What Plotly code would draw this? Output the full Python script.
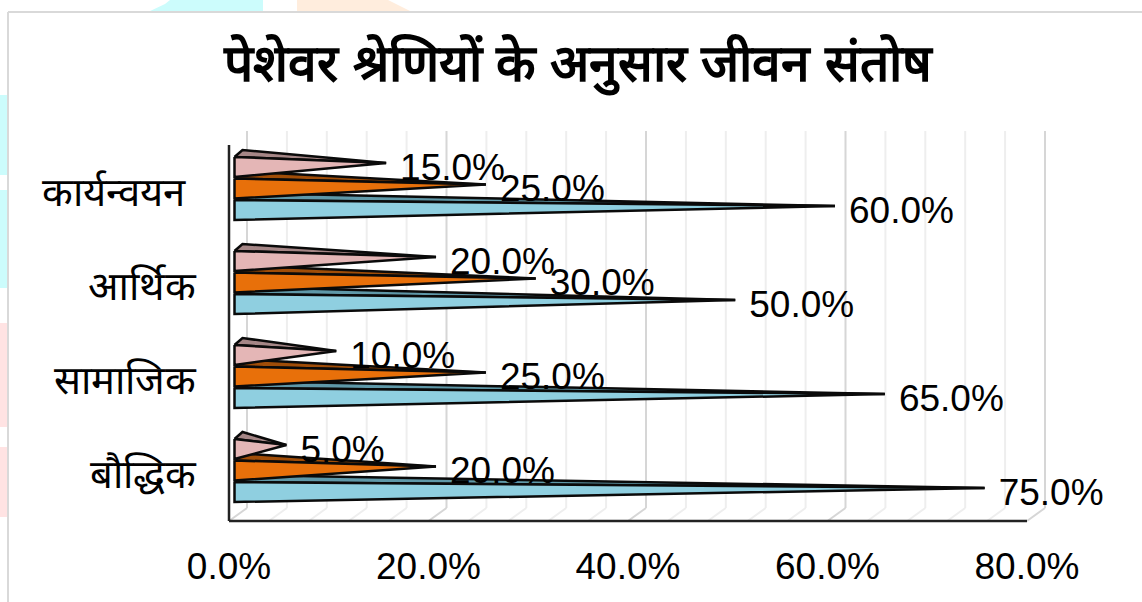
import plotly.graph_objects as go

TITLE = "पेशेवर श्रेणियों के अनुसार जीवन संतोष"
CATEGORIES = ["बौद्धिक", "सामाजिक", "आर्थिक", "कार्यन्वयन\u00a0"]
SERIES_BLUE = [75.0, 65.0, 50.0, 60.0]
SERIES_ORANGE = [20.0, 25.0, 30.0, 25.0]
SERIES_PINK = [5.0, 10.0, 20.0, 15.0]
X_TICKS = [0, 20, 40, 60, 80]
X_TICK_LABELS = ["0.0%", "20.0%", "40.0%", "60.0%", "80.0%"]

W, H = 1142, 602
L, R, T, B = 225, 1048, 129, 525
ZERO_PX, FLOOR_PX, ROW0_PX = 229, 521, 470.5
PX_PER_X = 9.975
PX_PER_Y = 94.0
FONT = "Liberation Sans, Arial, sans-serif"

fx = lambda px: px / PX_PER_X
fy = lambda px: px / PX_PER_Y

x_min = (L - ZERO_PX) / PX_PER_X
x_max = (R - ZERO_PX) / PX_PER_X
y_min = (ROW0_PX - B) / PX_PER_Y
y_max = (ROW0_PX - T) / PX_PER_Y
floor = (ROW0_PX - FLOOR_PX) / PX_PER_Y
wall_top = (ROW0_PX - 131) / PX_PER_Y

fig = go.Figure()

# background wall and floor grid
shapes = []
for v in range(0, 81, 4):
    major = v % 20 == 0
    col = "#d6d6d6" if major else "#eeeeee"
    back = v + fx(18)
    shapes.append(dict(type="line", xref="x", yref="y", x0=back, x1=back,
                       y0=floor + fy(13), y1=wall_top, line=dict(color=col, width=2), layer="below"))
    shapes.append(dict(type="line", xref="x", yref="y", x0=v, x1=back,
                       y0=floor, y1=floor + fy(13), line=dict(color=col, width=2), layer="below"))
# axis lines
AX = "#222222"
shapes.append(dict(type="line", xref="x", yref="y", x0=0, x1=0, y0=floor, y1=wall_top - fy(14),
                   line=dict(color=AX, width=2.5)))
shapes.append(dict(type="line", xref="x", yref="y", x0=0, x1=80, y0=floor, y1=floor,
                   line=dict(color=AX, width=2.5)))

# page furniture in pixels
pxx = lambda p: (p - L) / (R - L)
pxy = lambda p: (B - p) / (B - T)
def page_rect(x0, y0, x1, y1, color):
    return dict(type="rect", xref="paper", yref="paper", x0=pxx(x0), x1=pxx(x1),
                y0=pxy(y0), y1=pxy(y1), fillcolor=color, line=dict(width=0), layer="below")
def page_poly(points, color):
    d = "M" + "L".join(f"{pxx(a)},{pxy(b)}" for a, b in points) + "Z"
    return dict(type="path", xref="paper", yref="paper", path=d, fillcolor=color,
                line=dict(width=0), layer="below")
TEAL, PEACH, ROSE = "#ccfcfc", "#ffeddd", "#ffe3e3"
shapes += [
    page_poly([(148, 12), (165, 4), (170, 0), (263, 0), (263, 12)], TEAL),
    page_poly([(297, 0), (388, 0), (400, 6), (412, 12), (297, 12)], PEACH),
    page_rect(0, 95, 8, 175, TEAL),
    page_rect(0, 190, 8, 288, TEAL),
    page_rect(0, 323, 8, 427, ROSE),
    page_rect(0, 447, 8, 517, ROSE),
    dict(type="line", xref="paper", yref="paper", x0=pxx(8), x1=pxx(W), y0=pxy(12), y1=pxy(12),
         line=dict(color="#d9d9d9", width=2), layer="below"),
    dict(type="line", xref="paper", yref="paper", x0=pxx(8), x1=pxx(8), y0=pxy(12), y1=pxy(H),
         line=dict(color="#d9d9d9", width=2), layer="below"),
]

# pyramids
BAR_X0 = fx(5.5)
TIP_PAD = fx(7.5)
HALF = fy(10)
TIP_UP = fy(4)
BACK_X, BACK_Y = fx(8), fy(7)
EDGE = dict(color="#0a0a0a", width=2.5)
series = [
    (SERIES_BLUE, -fy(21.5), "#8fcfe0", "#5f98a8"),
    (SERIES_ORANGE, 0.0, "#e8700a", "#a04d08"),
    (SERIES_PINK, fy(21.5), "#e4b6b6", "#a58686"),
]
label_x, label_y, label_t = [], [], []
for values, off, face, top in series:
    tx, ty, fxs, fys = [], [], [], []
    for i, v in enumerate(values):
        yc = i + off
        tip = v + TIP_PAD
        tx += [BAR_X0, BAR_X0 + BACK_X, tip, BAR_X0, None]
        ty += [yc + HALF, yc + HALF + BACK_Y, yc + TIP_UP, yc + HALF, None]
        fxs += [BAR_X0, BAR_X0, tip, BAR_X0, None]
        fys += [yc + HALF, yc - HALF, yc + TIP_UP, yc + HALF, None]
        label_x.append(v + fx(21.5))
        label_y.append(yc - fy(3.5))
        label_t.append(f"{v:.1f}%")
    fig.add_trace(go.Scatter(x=tx, y=ty, mode="lines", fill="toself", fillcolor=top,
                             line=EDGE, hoverinfo="skip"))
    fig.add_trace(go.Scatter(x=fxs, y=fys, mode="lines", fill="toself", fillcolor=face,
                             line=EDGE, hoverinfo="skip"))

fig.add_trace(go.Scatter(x=label_x, y=label_y, text=label_t, mode="text",
                         textposition="middle right", cliponaxis=False,
                         textfont=dict(family=FONT, size=37, color="#000000"), hoverinfo="skip"))

fig.update_layout(
    width=W, height=H, autosize=False, showlegend=False,
    paper_bgcolor="rgba(255,255,255,1)", plot_bgcolor="rgba(0,0,0,0)",
    margin=dict(l=L, r=W - R, t=T, b=H - B, pad=0),
    font=dict(family=FONT, color="#000000"),
    title=dict(text=TITLE, x=578 / W, xanchor="center", y=1 - 62.5 / H, yanchor="middle", automargin=False,
               font=dict(size=51.5, color="#000000", family=FONT, weight="bold")),
    shapes=shapes,
    xaxis=dict(range=[x_min, x_max], tickvals=X_TICKS, ticktext=X_TICK_LABELS, showgrid=False,
               zeroline=False, showline=False, ticks="outside", ticklen=9, automargin=False,
               tickcolor="rgba(0,0,0,0)", tickfont=dict(size=37, family=FONT, color="#000000")),
    yaxis=dict(range=[y_min, y_max], tickvals=[i - fy(3) for i in range(len(CATEGORIES))], ticktext=CATEGORIES,
               showgrid=False, zeroline=False, showline=False, ticks="outside", ticklen=20, automargin=False,
               tickcolor="rgba(0,0,0,0)", tickfont=dict(size=40, family=FONT, color="#000000")),
)
fig.write_html("out.html", config={"displayModeBar": False},
               post_script="document.body.style.margin='0';")
